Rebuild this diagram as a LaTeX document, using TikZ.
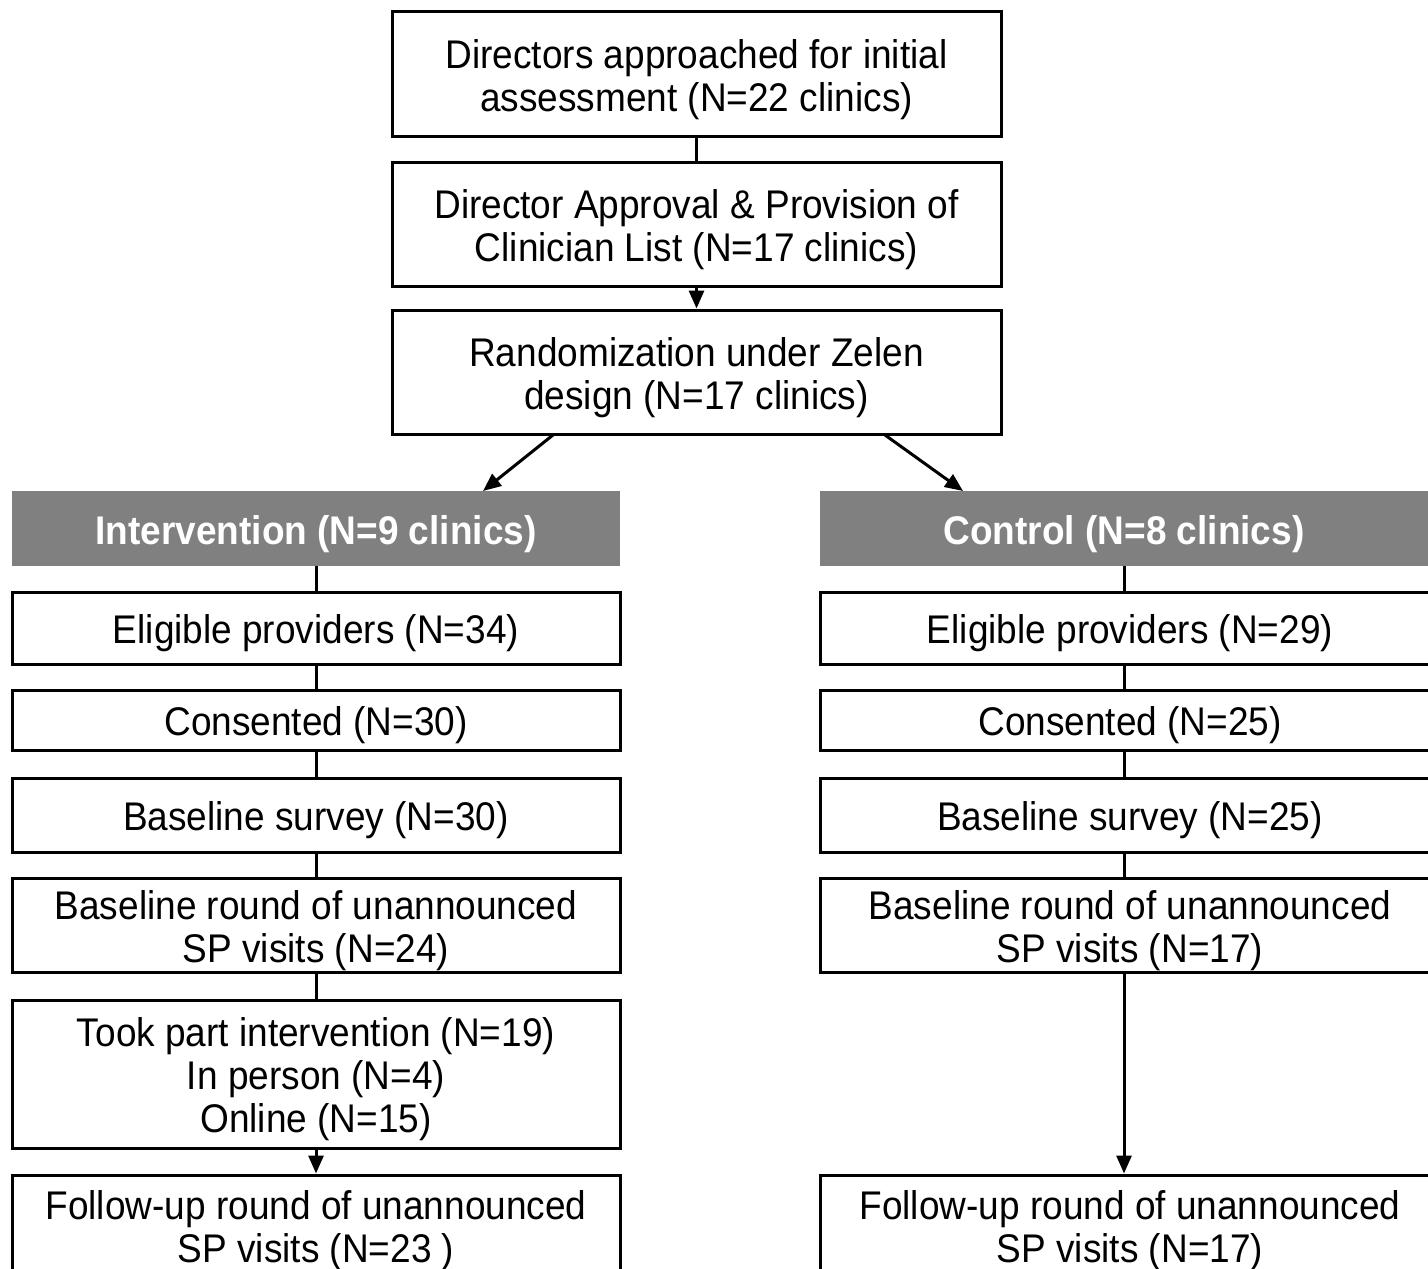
\documentclass[tikz,border=0pt]{standalone}
\usepackage{fontspec}
\setmainfont{Liberation Sans}[FakeStretch=0.925]
\usetikzlibrary{arrows.meta}
\newcommand\flowtext[1]{\raisebox{-3.5pt}[\height][\depth]{\begin{tabular}{@{}c@{}}#1\end{tabular}}}
\begin{document}
\begin{tikzpicture}[x=0.5pt, y=-0.5pt,
  box/.style={draw, line width=1.5pt, inner sep=0pt, font=\fontsize{20}{21.5}\selectfont},
  head/.style={fill=gray, text=white, inner sep=0pt, minimum width=304pt, minimum height=37.5pt, font=\fontsize{20}{21.5}\selectfont\bfseries},
  link/.style={line width=1.5pt},
  arr/.style={line width=1.5pt, -{Triangle[length=9pt,width=7.5pt]}}]
\useasboundingbox (0,0) rectangle (1428,1268);
% top of the flow
\node[box, minimum width=304.5pt, minimum height=62pt] (dir) at (696.5,74) {\flowtext{Directors approached for initial\\assessment (N=22 clinics)}};
\node[box, minimum width=304.5pt, minimum height=62pt] (appr) at (696.5,224) {\flowtext{Director Approval \& Provision of\\Clinician List (N=17 clinics)}};
\node[box, minimum width=304.5pt, minimum height=62pt] (rand) at (696.5,372) {\flowtext{Randomization under Zelen\\design (N=17 clinics)}};
\draw[link] (dir) -- (appr);
\draw[arr] (appr) -- (rand);
% the two arms
\node[head] (intv) at (316,528.5) {\flowtext{Intervention (N=9 clinics)}};
\node[head] (ctrl) at (1124,528.5) {\flowtext{Control (N=8 clinics)}};
\coordinate (randL) at (553,435);
\coordinate (randR) at (885,435);
\coordinate (intvT) at (483,491);
\coordinate (ctrlT) at (963,491);
\draw[arr] (randL) -- (intvT);
\draw[arr] (randR) -- (ctrlT);
% intervention arm
\node[box, minimum width=304pt, minimum height=36pt] (iElig) at (316,628) {\flowtext{Eligible providers (N=34)}};
\node[box, minimum width=304pt, minimum height=30pt] (iCons) at (316,720) {\flowtext{Consented (N=30)}};
\node[box, minimum width=304pt, minimum height=37pt] (iSurv) at (316,815) {\flowtext{Baseline survey (N=30)}};
\node[box, minimum width=304pt, minimum height=47pt] (iBase) at (316,925) {\flowtext{Baseline round of unannounced\\SP visits (N=24)}};
\node[box, minimum width=304pt, minimum height=74pt] (iTook) at (316,1074) {\flowtext{Took part intervention (N=19)\\In person (N=4)\\Online (N=15)}};
\node[box, minimum width=304pt, minimum height=50pt] (iFup) at (316,1225) {\flowtext{Follow-up round of unannounced\\SP visits (N=23 )}};
\draw[link] (intv) -- (iElig);
\draw[link] (iElig) -- (iCons);
\draw[link] (iCons) -- (iSurv);
\draw[link] (iSurv) -- (iBase);
\draw[link] (iBase) -- (iTook);
\draw[arr] (iTook) -- (iFup);
% control arm
\node[box, minimum width=310pt, minimum height=36pt] (cElig) at (1130,628) {\flowtext{Eligible providers (N=29)}};
\node[box, minimum width=310pt, minimum height=30pt] (cCons) at (1130,720) {\flowtext{Consented (N=25)}};
\node[box, minimum width=310pt, minimum height=37pt] (cSurv) at (1130,815) {\flowtext{Baseline survey (N=25)}};
\node[box, minimum width=310pt, minimum height=47pt] (cBase) at (1130,925) {\flowtext{Baseline round of unannounced\\SP visits (N=17)}};
\node[box, minimum width=310pt, minimum height=50pt] (cFup) at (1130,1225) {\flowtext{Follow-up round of unannounced\\SP visits (N=17)}};
\draw[link] (ctrl.south) -- (ctrl.south |- cElig.north);
\draw[link] (ctrl.south |- cElig.south) -- (ctrl.south |- cCons.north);
\draw[link] (ctrl.south |- cCons.south) -- (ctrl.south |- cSurv.north);
\draw[link] (ctrl.south |- cSurv.south) -- (ctrl.south |- cBase.north);
\draw[arr] (ctrl.south |- cBase.south) -- (ctrl.south |- cFup.north);
\end{tikzpicture}
\end{document}
